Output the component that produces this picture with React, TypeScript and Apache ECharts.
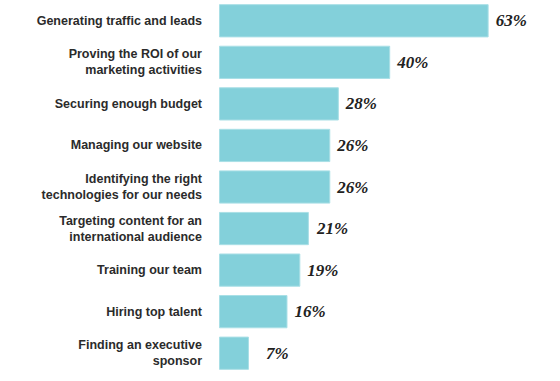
import React, { useEffect, useRef } from "react";
import * as echarts from "echarts";

const categories = [
  "Generating traffic and leads",
  "Proving the ROI of our\nmarketing activities",
  "Securing enough budget",
  "Managing our website",
  "Identifying the right\ntechnologies for our needs",
  "Targeting content for an\ninternational audience",
  "Training our team",
  "Hiring top talent",
  "Finding an executive\nsponsor",
];
const values = [63, 40, 28, 26, 26, 21, 19, 16, 7];
const labelGaps = [7, 7, 7, 7, 7, 8, 7, 7, 17];

export default function App() {
  const ref = useRef<HTMLDivElement>(null);
  useEffect(() => {
    const chart = echarts.init(ref.current!, null, { renderer: "svg" });
    chart.setOption({
      animation: false,
      grid: { left: 219, right: 20, top: -1, bottom: 7, containLabel: false },
      xAxis: {
        type: "value",
        min: 0,
        max: 75,
        show: false,
      },
      yAxis: {
        type: "category",
        data: categories,
        inverse: true,
        axisLine: { show: false },
        axisTick: { show: false },
        splitLine: { show: false },
        axisLabel: {
          margin: 17,
          color: "#2b2b2b",
          fontFamily: "Liberation Sans",
          fontWeight: "bold",
          fontSize: 12.5,
          lineHeight: 16,
          align: "right",
        },
      },
      series: [
        {
          type: "bar",
          data: values.map((v, i) => ({
            value: v,
            label: { distance: labelGaps[i] },
          })),
          barCategoryGap: "20%",
          itemStyle: { color: "#83d0da", borderColor: "#a9dfe6", borderWidth: 1 },
          label: {
            show: true,
            position: "right",
            formatter: "{c}%",
            fontFamily: "Liberation Serif",
            fontStyle: "italic",
            fontWeight: "bold",
            fontSize: 17,
            color: "#222222",
          },
        },
      ],
    });
    return () => chart.dispose();
  }, []);
  return <div ref={ref} style={{ width: 560, height: 381, position: "absolute", left: 0, top: 0 }} />;
}
